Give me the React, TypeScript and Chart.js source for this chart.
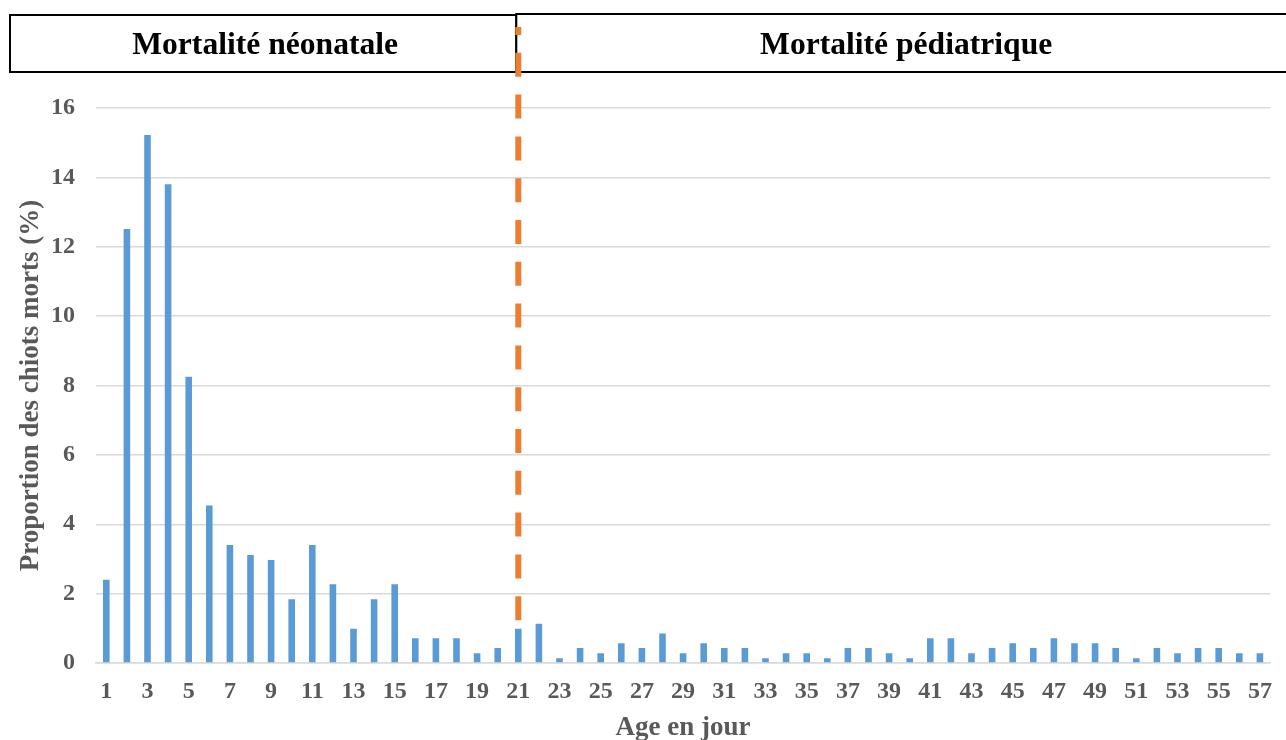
import React, { useEffect, useRef } from "react";
import { Chart, registerables } from "chart.js";

Chart.register(...registerables);

// Age of the puppy at death, in days
const days = [
  "1", "2", "3", "4", "5", "6", "7", "8", "9", "10",
  "11", "12", "13", "14", "15", "16", "17", "18", "19", "20",
  "21", "22", "23", "24", "25", "26", "27", "28", "29", "30",
  "31", "32", "33", "34", "35", "36", "37", "38", "39", "40",
  "41", "42", "43", "44", "45", "46", "47", "48", "49", "50",
  "51", "52", "53", "54", "55", "56", "57",
];

// Share of dead puppies (%) for each day of age
const deadShare = [
  2.4, 12.51, 15.22, 13.8, 8.25, 4.54, 3.4, 3.11, 2.97, 1.84,
  3.4, 2.27, 0.99, 1.84, 2.27, 0.71, 0.71, 0.71, 0.28, 0.43,
  0.99, 1.13, 0.14, 0.43, 0.28, 0.57, 0.43, 0.85, 0.28, 0.57,
  0.43, 0.43, 0.14, 0.28, 0.28, 0.14, 0.43, 0.43, 0.28, 0.14,
  0.71, 0.71, 0.28, 0.43, 0.57, 0.43, 0.71, 0.57, 0.57, 0.43,
  0.14, 0.43, 0.28, 0.43, 0.43, 0.28, 0.28,
];

const yTicks = [0, 2, 4, 6, 8, 10, 12, 14, 16];
const periodTitles = ["Mortalité néonatale", "Mortalité pédiatrique"];
const splitDay = "21";
const splitLineTopValue = 1.2;

const SERIF = "'Liberation Serif', 'Times New Roman', serif";
const GREY = "#595959";

const periodOverlay = {
  id: "periodOverlay",
  afterDraw(chart: any) {
    const { ctx } = chart;
    const xs = chart.scales.x;
    const ys = chart.scales.y;
    const splitX = xs.getPixelForValue(days.indexOf(splitDay));
    const edge = splitX - 2;

    ctx.save();
    // header boxes
    ctx.fillStyle = "#ffffff";
    ctx.strokeStyle = "#000000";
    ctx.lineWidth = 2;
    ctx.fillRect(10, 15, edge - 10, 57);
    ctx.strokeRect(10, 15, edge - 10, 57);
    ctx.fillRect(edge, 14, 1300 - edge, 58);
    ctx.strokeRect(edge, 14, 1300 - edge, 58);

    ctx.fillStyle = "#000000";
    ctx.font = `bold 31.6px ${SERIF}`;
    ctx.textAlign = "center";
    ctx.textBaseline = "alphabetic";
    ctx.fillText(periodTitles[0], (10 + edge) / 2 + 2, 54);
    ctx.fillText(periodTitles[1], (edge + 1296) / 2, 54);

    // dashed separator between the two periods
    ctx.strokeStyle = "#ED7D31";
    ctx.lineWidth = 6;
    ctx.lineCap = "butt";
    ctx.setLineDash([24, 17.8]);
    ctx.lineDashOffset = 16;
    ctx.beginPath();
    ctx.moveTo(splitX, 27);
    ctx.lineTo(splitX, ys.getPixelForValue(splitLineTopValue));
    ctx.stroke();
    ctx.restore();
  },
};

export default function App() {
  const canvasRef = useRef<HTMLCanvasElement | null>(null);

  useEffect(() => {
    const canvas = canvasRef.current;
    if (!canvas) return;
    const chart = new Chart(canvas, {
      type: "bar",
      data: {
        labels: days,
        datasets: [
          {
            data: deadShare,
            backgroundColor: "#5B9BD5",
            borderWidth: 0,
            barPercentage: 0.64,
            categoryPercentage: 0.5,
          },
        ],
      },
      options: {
        responsive: false,
        maintainAspectRatio: false,
        devicePixelRatio: 1,
        animation: false,
        layout: { padding: { left: 0, right: 13, top: 108, bottom: 0 } },
        plugins: {
          legend: { display: false },
          tooltip: { enabled: false },
          title: { display: false },
        },
        scales: {
          x: {
            grid: { display: false, drawTicks: false },
            border: { display: true, color: "#D9D9D9", width: 1.5 },
            ticks: {
              autoSkip: false,
              maxRotation: 0,
              minRotation: 0,
              padding: 14,
              color: GREY,
              font: { family: SERIF, size: 24, weight: "bold" },
              callback: (_v: any, i: number) => (i % 2 === 0 ? days[i] : ""),
            },
            title: {
              display: true,
              text: "Age en jour",
              color: GREY,
              font: { family: SERIF, size: 27, weight: "bold", lineHeight: 0.85 },
              padding: { top: 0, bottom: 0 },
            },
            afterFit: (s: any) => {
              s.height = 77;
            },
          },
          y: {
            min: 0,
            max: 16,
            afterBuildTicks: (s: any) => {
              s.ticks = yTicks.map((v) => ({ value: v }));
            },
            grid: { color: "#D9D9D9", lineWidth: 1.5, drawTicks: false },
            border: { display: false },
            ticks: {
              padding: 21,
              color: GREY,
              font: { family: SERIF, size: 24, weight: "bold" },
            },
            title: {
              display: true,
              text: "Proportion des chiots morts (%)",
              color: GREY,
              font: { family: SERIF, size: 27, weight: "bold", lineHeight: 1.2 },
              padding: { top: 15, bottom: 0 },
            },
            afterFit: (s: any) => {
              s.width = 96;
            },
          },
        },
      },
      plugins: [periodOverlay],
    });
    return () => chart.destroy();
  }, []);

  return (
    <div
      style={{
        position: "fixed",
        left: 0,
        top: 0,
        width: 1286,
        height: 740,
        background: "#ffffff",
        overflow: "hidden",
      }}
    >
      <canvas ref={canvasRef} width={1286} height={740} />
    </div>
  );
}
